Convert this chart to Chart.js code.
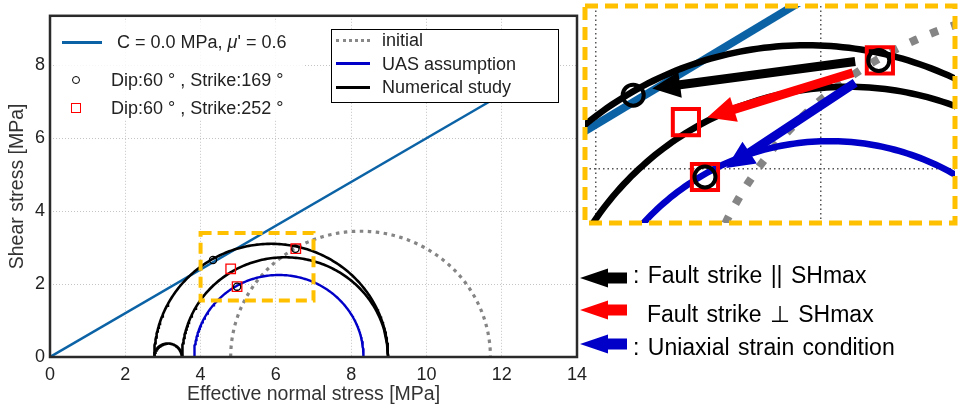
<!DOCTYPE html>
<html>
<head>
<meta charset="utf-8">
<script src="https://cdn.jsdelivr.net/npm/chart.js@4/dist/chart.umd.min.js"></script>
<style>
  body { margin: 0; background: #fff; }
  #wrap { position: relative; width: 960px; height: 409px; overflow: hidden; font-family: "Liberation Sans", Arial, sans-serif; color: #222; }
  #main { position: absolute; left: 0; top: 0; }
  #zoom { position: absolute; left: 580px; top: 0; }
  .abs { position: absolute; white-space: nowrap; }
  .lgtxt { font-size: 18px; line-height: 22px; }
  .note { font-size: 23px; line-height: 26px; color: #000; word-spacing: 2px; }
</style>
</head>
<body>
<div id="wrap">
  <canvas id="main" width="960" height="409"></canvas>
  <canvas id="zoom" width="380" height="230"></canvas>

  <!-- legend 1 (no frame) -->
  <div class="abs" style="left:55px;top:22px;width:250px;height:98px;background:rgba(255,255,255,0.85)"></div>
  <div class="abs" style="left:62px;top:40.5px;width:40px;height:3px;background:#0B63A6"></div>
  <div class="abs lgtxt" style="left:117px;top:31px">C = 0.0 MPa, <i>μ</i>' = 0.6</div>
  <div class="abs" style="left:72px;top:76px;width:8px;height:8px;border:1.4px solid #000;border-radius:50%;box-sizing:border-box"></div>
  <div class="abs lgtxt" style="left:111px;top:69px">Dip:60 ° , Strike:169 °</div>
  <div class="abs" style="left:71px;top:103px;width:10px;height:10px;border:1.4px solid #f00;box-sizing:border-box"></div>
  <div class="abs lgtxt" style="left:111px;top:97px">Dip:60 ° , Strike:252 °</div>

  <!-- legend 2 (framed) -->
  <div class="abs" style="left:331px;top:29px;width:228px;height:74px;border:1.5px solid #000;box-sizing:border-box;background:#fff"></div>
  <div class="abs" style="left:336px;top:38.5px;width:34px;height:0;border-top:3px dotted #888"></div>
  <div class="abs lgtxt" style="left:382px;top:29px">initial</div>
  <div class="abs" style="left:336px;top:62px;width:34px;height:3px;background:#0000C8"></div>
  <div class="abs lgtxt" style="left:382px;top:52.5px">UAS assumption</div>
  <div class="abs" style="left:336px;top:85.5px;width:34px;height:3px;background:#000"></div>
  <div class="abs lgtxt" style="left:382px;top:76px">Numerical study</div>

  <!-- arrow notes -->
  <div class="abs note" style="left:633px;top:262px">: Fault strike || SHmax</div>
  <div class="abs note" style="left:647px;top:301px">Fault strike ⊥ SHmax</div>
  <div class="abs note" style="left:633px;top:334px">: Uniaxial strain condition</div>
</div>

<script>
const FONT = '"Liberation Sans", Arial, sans-serif';

// axes
const xTicks = [0, 2, 4, 6, 8, 10, 12, 14];
const yTicks = [0, 2, 4, 6, 8];

// Mohr circles, principal stresses [MPa]
const numericalS3 = [2.77, 3.51, 2.77];
const numericalS1 = [8.98, 8.98, 3.51];
const uasS3 = [3.83];
const uasS1 = [8.33];
const initialS3 = [4.80];
const initialS1 = [11.70];

// failure line
const cohesion = 0.0;
const friction = 0.6;
const lineRange = [0, 12];

// fault points (normal stress, shear stress)
const strike169X = [4.33, 4.97, 6.52];
const strike169Y = [2.66, 1.93, 2.97];
const strike252X = [4.80, 4.97, 6.53];
const strike252Y = [2.42, 1.93, 2.97];

// zoom window
const zoomBoxX = [4.0, 7.0];
const zoomBoxY = [1.55, 3.4];
const zoomViewX = [3.9, 7.2];
const zoomViewY = [1.52, 3.455];

// arrows in zoom: [tailX, tailY, tipX, tipY]
const blackArrow = [6.31, 2.96, 4.50, 2.72];
const redArrow = [6.29, 2.86, 4.99, 2.46];
const blueArrow = [6.31, 2.77, 5.16, 2.01];

function mohr(s3, s1) {
  const c = (s1 + s3) / 2, r = (s1 - s3) / 2;
  const pts = [];
  for (let i = 0; i <= 180; i++) {
    const a = Math.PI * i / 180;
    pts.push({ x: c - r * Math.cos(a), y: r * Math.sin(a) });
  }
  return pts;
}

function pts(xs, ys) {
  return xs.map((x, i) => ({ x: x, y: ys[i] }));
}

function buildDatasets(st) {
  const ds = [];
  ds.push({ data: pts(strike169X, strike169Y), pointStyle: 'circle', pointRadius: st.circR,
    pointBorderWidth: st.circB, pointBorderColor: '#000', pointBackgroundColor: 'rgba(0,0,0,0)', showLine: false, order: 0 });
  ds.push({ data: pts(strike252X, strike252Y), pointStyle: 'rect', pointRadius: st.sqR,
    pointBorderWidth: st.sqB, pointBorderColor: '#f00', pointBackgroundColor: 'rgba(0,0,0,0)', showLine: false, order: 0 });
  numericalS3.forEach((s3, i) => {
    ds.push({ data: mohr(s3, numericalS1[i]), borderColor: '#000', borderWidth: st.circW, showLine: true, pointRadius: 0, order: 1 });
  });
  uasS3.forEach((s3, i) => {
    ds.push({ data: mohr(s3, uasS1[i]), borderColor: '#0000C8', borderWidth: st.uasW, showLine: true, pointRadius: 0, order: 2 });
  });
  ds.push({ data: lineRange.map(x => ({ x: x, y: cohesion + friction * x })), borderColor: '#0B63A6',
    borderWidth: st.lineW, showLine: true, pointRadius: 0, order: 3 });
  initialS3.forEach((s3, i) => {
    ds.push({ data: mohr(s3, initialS1[i]), borderColor: '#858585', borderWidth: st.initW, borderDash: st.initDash,
      showLine: true, pointRadius: 0, order: 4 });
  });
  return ds;
}

function drawArrow(ctx, x1, y1, x2, y2, color, shaftW, headL, headW) {
  const ang = Math.atan2(y2 - y1, x2 - x1);
  const len = Math.hypot(x2 - x1, y2 - y1);
  ctx.save();
  ctx.translate(x1, y1);
  ctx.rotate(ang);
  ctx.fillStyle = color;
  ctx.beginPath();
  ctx.moveTo(0, -shaftW / 2);
  ctx.lineTo(len - headL, -shaftW / 2);
  ctx.lineTo(len - headL, -headW / 2);
  ctx.lineTo(len, 0);
  ctx.lineTo(len - headL, headW / 2);
  ctx.lineTo(len - headL, shaftW / 2);
  ctx.lineTo(0, shaftW / 2);
  ctx.closePath();
  ctx.fill();
  ctx.restore();
}

const mainDecor = {
  id: 'mainDecor',
  afterDatasetsDraw(chart) {
    const { ctx, chartArea: a, scales: { x, y } } = chart;
    ctx.save();
    ctx.strokeStyle = '#FFC000';
    ctx.lineWidth = 4;
    ctx.setLineDash([11, 6]);
    const x0 = x.getPixelForValue(zoomBoxX[0]), x1 = x.getPixelForValue(zoomBoxX[1]);
    const y0 = y.getPixelForValue(zoomBoxY[1]), y1 = y.getPixelForValue(zoomBoxY[0]);
    ctx.strokeRect(x0, y0, x1 - x0, y1 - y0);
    ctx.setLineDash([]);
    ctx.strokeStyle = '#2a2a2a';
    ctx.lineWidth = 2.5;
    ctx.strokeRect(a.left, a.top, a.right - a.left, a.bottom - a.top);
    ctx.restore();
  },
  afterDraw(chart) {
    const ctx = chart.ctx;
    drawArrow(ctx, 627, 278, 580, 278, '#000', 11, 28, 19);
    drawArrow(ctx, 627, 310, 580, 310, '#f00', 11, 28, 19);
    drawArrow(ctx, 627, 344, 580, 344, '#0000C8', 11, 28, 19);
  }
};

const zoomDecor = {
  id: 'zoomDecor',
  afterDatasetsDraw(chart) {
    const { ctx, chartArea: a, scales: { x, y } } = chart;
    [[blackArrow, '#000'], [redArrow, '#f00'], [blueArrow, '#0000C8']].forEach(([ar, col]) => {
      drawArrow(ctx, x.getPixelForValue(ar[0]), y.getPixelForValue(ar[1]),
        x.getPixelForValue(ar[2]), y.getPixelForValue(ar[3]), col, 9, 28, 26);
    });
    ctx.save();
    ctx.strokeStyle = '#FFC000';
    ctx.lineWidth = 5;
    ctx.setLineDash([13, 7]);
    ctx.strokeRect(a.left, a.top, a.right - a.left, a.bottom - a.top);
    ctx.restore();
  }
};

new Chart(document.getElementById('main'), {
  type: 'scatter',
  data: { datasets: buildDatasets({ circR: 3.6, circB: 1.3, sqR: 6.7, sqB: 1.3, circW: 2.6, uasW: 2.4, lineW: 2.5, initW: 3.2, initDash: [3.5, 4.5] }) },
  options: {
    responsive: false,
    animation: false,
    events: [],
    layout: { autoPadding: false, padding: { left: 0, top: 5, right: 383, bottom: 0 } },
    plugins: { legend: { display: false }, tooltip: { enabled: false } },
    scales: {
      x: {
        type: 'linear', min: 0, max: 14,
        afterBuildTicks: s => { s.ticks = xTicks.map(v => ({ value: v })); },
        afterFit: s => { s.height = 52; },
        ticks: { padding: 7, color: '#222', font: { family: FONT, size: 18 } },
        grid: { color: '#c4c4c4', lineWidth: 1, drawTicks: false },
        border: { display: false, dash: [1, 2] },
        title: { display: true, text: 'Effective normal stress [MPa]', color: '#333', font: { family: FONT, size: 19.5 }, padding: { top: 0, bottom: 3 } }
      },
      y: {
        type: 'linear', min: 0, max: 9.36,
        afterBuildTicks: s => { s.ticks = yTicks.map(v => ({ value: v })); },
        afterFit: s => { s.width = 50; },
        ticks: { padding: 5, color: '#222', font: { family: FONT, size: 18 } },
        grid: { color: '#c4c4c4', lineWidth: 1, drawTicks: false },
        border: { display: false, dash: [1, 2] },
        title: { display: true, text: 'Shear stress [MPa]', color: '#333', font: { family: FONT, size: 19.5 }, padding: { top: 6, bottom: 0 } }
      }
    }
  },
  plugins: [mainDecor]
});

new Chart(document.getElementById('zoom'), {
  type: 'scatter',
  data: { datasets: buildDatasets({ circR: 10.5, circB: 4, sqR: 18.5, sqB: 4, circW: 6.5, uasW: 6.5, lineW: 8, initW: 8, initDash: [8, 14] }) },
  options: {
    responsive: false,
    animation: false,
    events: [],
    layout: { autoPadding: false, padding: { left: 5, top: 6, right: 5, bottom: 7 } },
    plugins: { legend: { display: false }, tooltip: { enabled: false } },
    scales: {
      x: {
        type: 'linear', min: zoomViewX[0], max: zoomViewX[1],
        afterBuildTicks: s => { s.ticks = [4, 6].map(v => ({ value: v })); },
        afterFit: s => { s.height = 0; },
        ticks: { display: false },
        grid: { color: '#555', lineWidth: 1.5, drawTicks: false },
        border: { display: false, dash: [1.5, 3] }
      },
      y: {
        type: 'linear', min: zoomViewY[0], max: zoomViewY[1],
        afterBuildTicks: s => { s.ticks = [2].map(v => ({ value: v })); },
        afterFit: s => { s.width = 0; },
        ticks: { display: false },
        grid: { color: '#555', lineWidth: 1.5, drawTicks: false },
        border: { display: false, dash: [1.5, 3] }
      }
    }
  },
  plugins: [zoomDecor]
});
</script>
</body>
</html>
